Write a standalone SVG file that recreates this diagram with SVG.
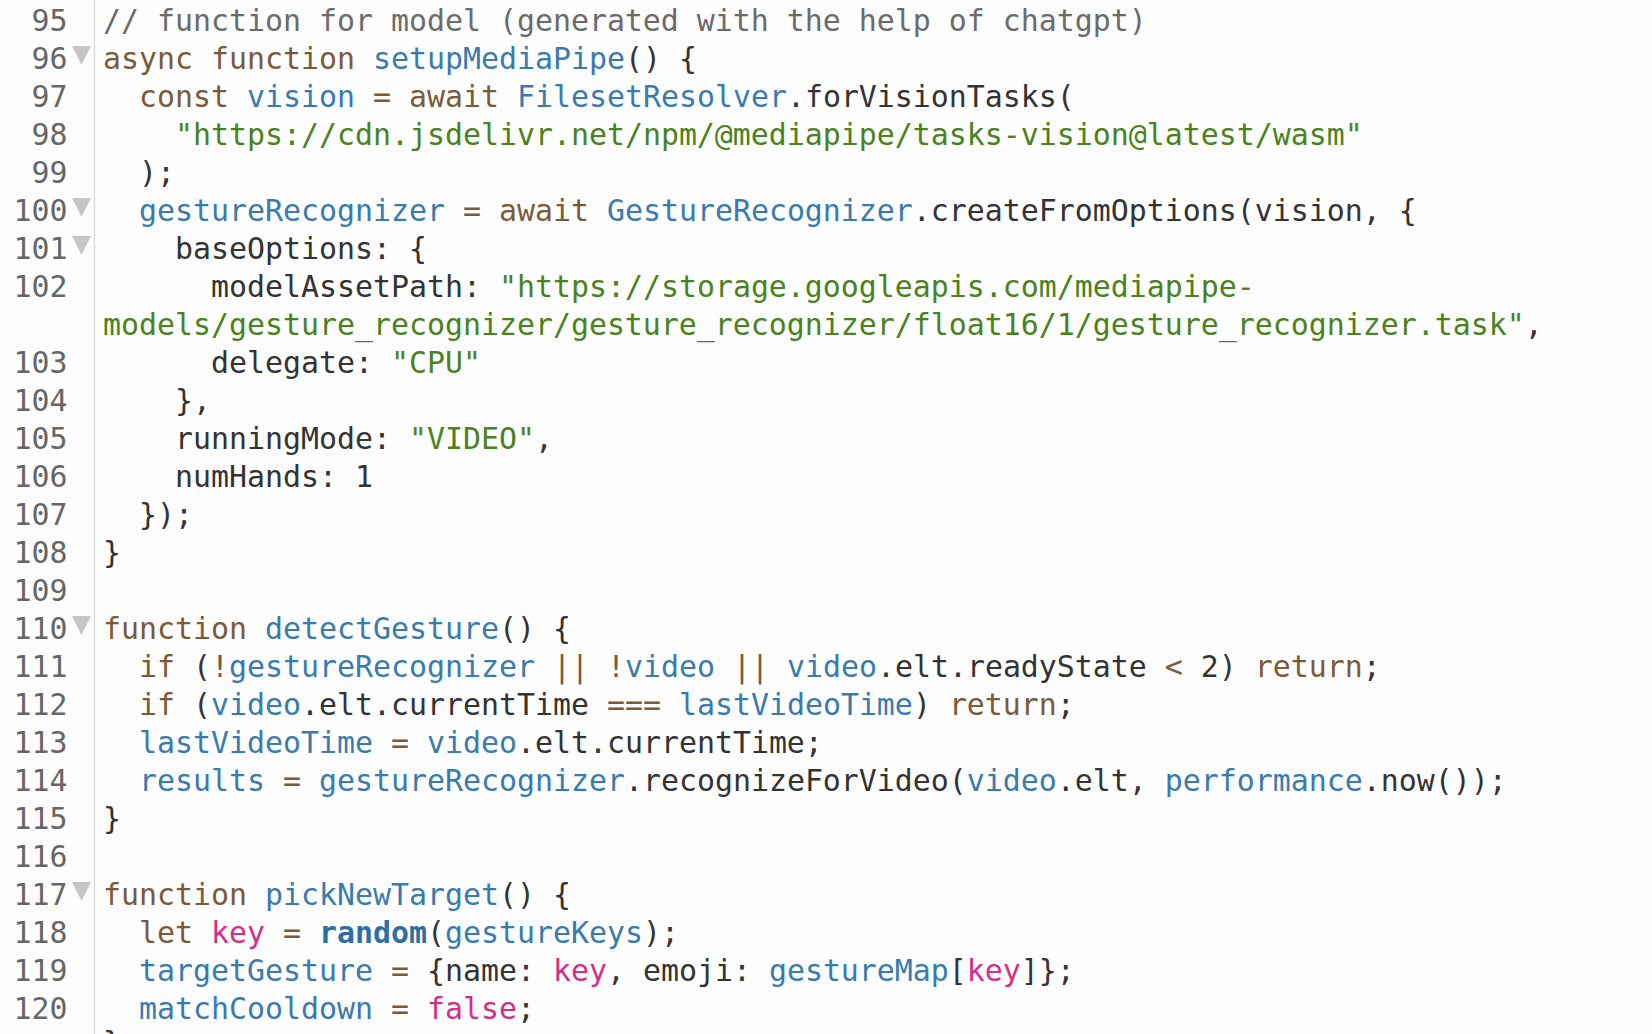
<svg xmlns="http://www.w3.org/2000/svg" width="1652" height="1034" viewBox="0 0 1652 1034">
<style>
text{font-family:"DejaVu Sans Mono","Liberation Mono",monospace;font-size:29.9px;white-space:pre;fill:#333333}
.ln{fill:#666666;text-anchor:end}
.c{fill:#6b6b6b}
.k{fill:#7a5a3a}
.o{fill:#7a5a3a}
.v{fill:#3a7bad}
.s{fill:#4a8220}
.p{fill:#d42f88}
.b{fill:#2d6fa3;font-weight:bold}
.fold{fill:#c6c6c6}
</style>
<rect x="0" y="0" width="1652" height="1034" fill="#fdfdfd"/>
<line x1="94.5" y1="0" x2="94.5" y2="1034" stroke="#dddddd" stroke-width="1.5"/>
<g id="gutter">
<text class="ln" x="67.5" y="31">95</text>
<text class="ln" x="67.5" y="69">96</text>
<text class="ln" x="67.5" y="107">97</text>
<text class="ln" x="67.5" y="145">98</text>
<text class="ln" x="67.5" y="183">99</text>
<text class="ln" x="67.5" y="221">100</text>
<text class="ln" x="67.5" y="259">101</text>
<text class="ln" x="67.5" y="297">102</text>
<text class="ln" x="67.5" y="373">103</text>
<text class="ln" x="67.5" y="411">104</text>
<text class="ln" x="67.5" y="449">105</text>
<text class="ln" x="67.5" y="487">106</text>
<text class="ln" x="67.5" y="525">107</text>
<text class="ln" x="67.5" y="563">108</text>
<text class="ln" x="67.5" y="601">109</text>
<text class="ln" x="67.5" y="639">110</text>
<text class="ln" x="67.5" y="677">111</text>
<text class="ln" x="67.5" y="715">112</text>
<text class="ln" x="67.5" y="753">113</text>
<text class="ln" x="67.5" y="791">114</text>
<text class="ln" x="67.5" y="829">115</text>
<text class="ln" x="67.5" y="867">116</text>
<text class="ln" x="67.5" y="905">117</text>
<text class="ln" x="67.5" y="943">118</text>
<text class="ln" x="67.5" y="981">119</text>
<text class="ln" x="67.5" y="1019">120</text>
<polygon class="fold" points="72,46 91,46 81.5,65"/>
<polygon class="fold" points="72,198 91,198 81.5,217"/>
<polygon class="fold" points="72,236 91,236 81.5,255"/>
<polygon class="fold" points="72,616 91,616 81.5,635"/>
<polygon class="fold" points="72,882 91,882 81.5,901"/>
</g>
<g id="code">
<text x="103" y="31"><tspan class="c">// function for model (generated with the help of chatgpt)</tspan></text>
<text x="103" y="69"><tspan class="k">async function</tspan> <tspan class="v">setupMediaPipe</tspan>() {</text>
<text x="139" y="107"><tspan class="k">const</tspan> <tspan class="v">vision</tspan> <tspan class="o">=</tspan> <tspan class="k">await</tspan> <tspan class="v">FilesetResolver</tspan>.forVisionTasks(</text>
<text x="175" y="145"><tspan class="s">"https://cdn.jsdelivr.net/npm/@mediapipe/tasks-vision@latest/wasm"</tspan></text>
<text x="139" y="183">);</text>
<text x="139" y="221"><tspan class="v">gestureRecognizer</tspan> <tspan class="o">=</tspan> <tspan class="k">await</tspan> <tspan class="v">GestureRecognizer</tspan>.createFromOptions(vision, {</text>
<text x="175" y="259">baseOptions: {</text>
<text x="211" y="297">modelAssetPath: <tspan class="s">"https://storage.googleapis.com/mediapipe-</tspan></text>
<text x="103" y="335"><tspan class="s">models/gesture_recognizer/gesture_recognizer/float16/1/gesture_recognizer.task"</tspan>,</text>
<text x="211" y="373">delegate: <tspan class="s">"CPU"</tspan></text>
<text x="175" y="411">},</text>
<text x="175" y="449">runningMode: <tspan class="s">"VIDEO"</tspan>,</text>
<text x="175" y="487">numHands: 1</text>
<text x="139" y="525">});</text>
<text x="103" y="563">}</text>
<text x="103" y="639"><tspan class="k">function</tspan> <tspan class="v">detectGesture</tspan>() {</text>
<text x="139" y="677"><tspan class="k">if</tspan> (<tspan class="o">!</tspan><tspan class="v">gestureRecognizer</tspan> <tspan class="o">||</tspan> <tspan class="o">!</tspan><tspan class="v">video</tspan> <tspan class="o">||</tspan> <tspan class="v">video</tspan>.elt.readyState <tspan class="o">&lt;</tspan> 2) <tspan class="k">return</tspan>;</text>
<text x="139" y="715"><tspan class="k">if</tspan> (<tspan class="v">video</tspan>.elt.currentTime <tspan class="o">===</tspan> <tspan class="v">lastVideoTime</tspan>) <tspan class="k">return</tspan>;</text>
<text x="139" y="753"><tspan class="v">lastVideoTime</tspan> <tspan class="o">=</tspan> <tspan class="v">video</tspan>.elt.currentTime;</text>
<text x="139" y="791"><tspan class="v">results</tspan> <tspan class="o">=</tspan> <tspan class="v">gestureRecognizer</tspan>.recognizeForVideo(<tspan class="v">video</tspan>.elt, <tspan class="v">performance</tspan>.now());</text>
<text x="103" y="829">}</text>
<text x="103" y="905"><tspan class="k">function</tspan> <tspan class="v">pickNewTarget</tspan>() {</text>
<text x="139" y="943"><tspan class="k">let</tspan> <tspan class="p">key</tspan> <tspan class="o">=</tspan> <tspan class="b">random</tspan>(<tspan class="v">gestureKeys</tspan>);</text>
<text x="139" y="981"><tspan class="v">targetGesture</tspan> <tspan class="o">=</tspan> {name: <tspan class="p">key</tspan>, emoji: <tspan class="v">gestureMap</tspan>[<tspan class="p">key</tspan>]};</text>
<text x="139" y="1019"><tspan class="v">matchCooldown</tspan> <tspan class="o">=</tspan> <tspan class="p">false</tspan>;</text>
<text x="103" y="1053">}</text>
</g>
</svg>
